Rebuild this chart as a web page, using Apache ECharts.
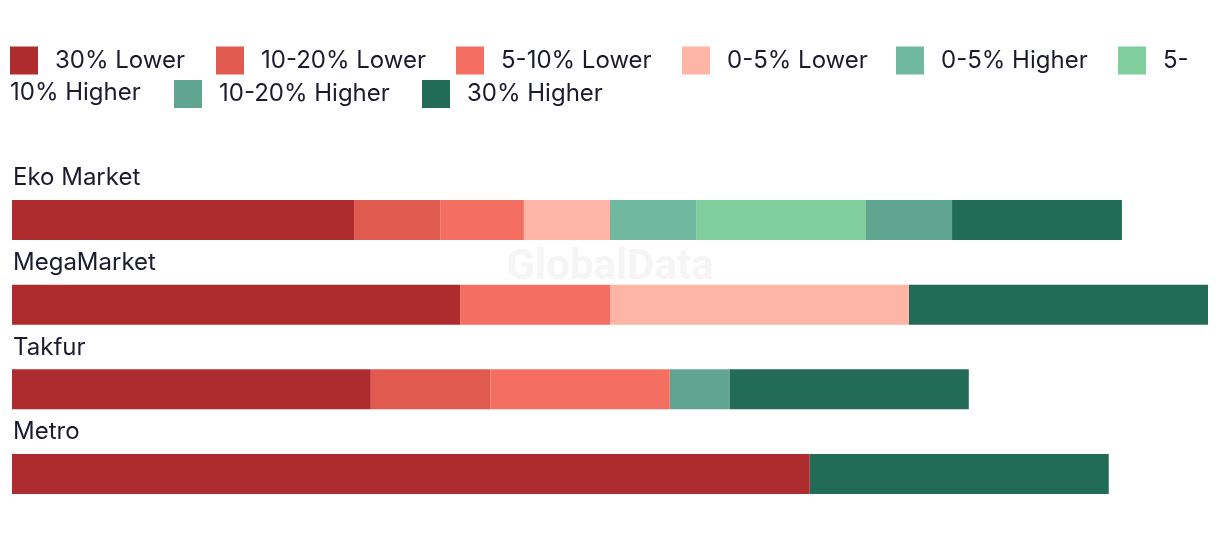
<!DOCTYPE html>
<html>
<head>
<meta charset="utf-8">
<script src="https://cdn.jsdelivr.net/npm/echarts@6/dist/echarts.min.js"></script>
<style>html,body{margin:0;padding:0;background:#fff}#c{width:1220px;height:538px}</style>
</head>
<body>
<div id="c"></div>
<script>
// ---- data ----
const categories = ['Eko Market', 'MegaMarket', 'Takfur', 'Metro'];
const seriesNames = ['30% Lower', '10-20% Lower', '5-10% Lower', '0-5% Lower', '0-5% Higher', '5-10% Higher', '10-20% Higher', '30% Higher'];
const lower30    = [28.6, 37.5, 30, 66.7];
const lower10_20 = [7.2, 0, 10, 0];
const lower5_10  = [7.0, 12.5, 15, 0];
const lower0_5   = [7.2, 25, 0, 0];
const higher0_5  = [7.2, 0, 0, 0];
const higher5_10 = [14.2, 0, 0, 0];
const higher10_20 = [7.2, 0, 5, 0];
const higher30   = [14.2, 25, 20, 25];
const seriesValues = [lower30, lower10_20, lower5_10, lower0_5, higher0_5, higher5_10, higher10_20, higher30];

// ---- style ----
const colors = ['#AF2C2E', '#E05A4F', '#F46E62', '#FEB5A6', '#70B8A0', '#80CE9C', '#5FA58F', '#216B57'];
const FONT = 'Inter';
const TXT = '#1b1b2f';
const FS = 24;
// legend layout: [left, top] for each item's icon
const legendPos = [[10, 46], [216, 46], [456, 46], [682, 46], [896, 46], [1118, 46], [174, 80], [422, 80]];

const chart = echarts.init(document.getElementById('c'), null, {renderer: 'canvas'});

const legends = seriesNames.map((name, i) => ({
  data: [name],
  left: legendPos[i][0],
  top: legendPos[i][1],
  padding: 0,
  icon: 'rect',
  itemWidth: 28,
  itemHeight: 28,
  selectedMode: false,
  formatter: n => (n === '5-10% Higher' ? '5-' : n),
  textStyle: {fontFamily: FONT, fontSize: FS, color: TXT, padding: i < 6 ? [0, 0, 5, 12] : [0, 0, 2, 12], lineHeight: 24}
}));

const option = {
  animation: false,
  color: colors,
  textStyle: {fontFamily: FONT},
  legend: legends,
  graphic: [
    {type: 'text', left: 10, top: 81, silent: true,
     style: {text: '10% Higher', fontFamily: FONT, fontSize: FS, fill: TXT, lineHeight: 24}},
    {type: 'text', z: -10, silent: true, left: 'center', top: 247,
     style: {text: 'GlobalData', fontFamily: 'Roboto', fontWeight: 'bold', fontSize: 42, fill: '#f5f5f5'}}
  ],
  grid: {left: 12, right: 12, top: 177.67, height: 338.67, containLabel: false},
  xAxis: {type: 'value', min: 0, max: 100, show: false},
  yAxis: {
    type: 'category', data: categories, inverse: true,
    axisLine: {show: false}, axisTick: {show: false}, splitLine: {show: false},
    axisLabel: {show: false}
  },
  series: seriesNames.map((name, i) => ({
    name, type: 'bar', stack: 'total', barWidth: 40,
    data: seriesValues[i],
    itemStyle: {color: colors[i]},
    emphasis: {disabled: true},
    label: i === 0 ? {
      show: true, position: [1, -34], formatter: p => p.name,
      fontFamily: FONT, fontSize: FS, color: TXT, lineHeight: 24
    } : {show: false}
  }))
};
chart.setOption(option);
</script>
</body>
</html>
